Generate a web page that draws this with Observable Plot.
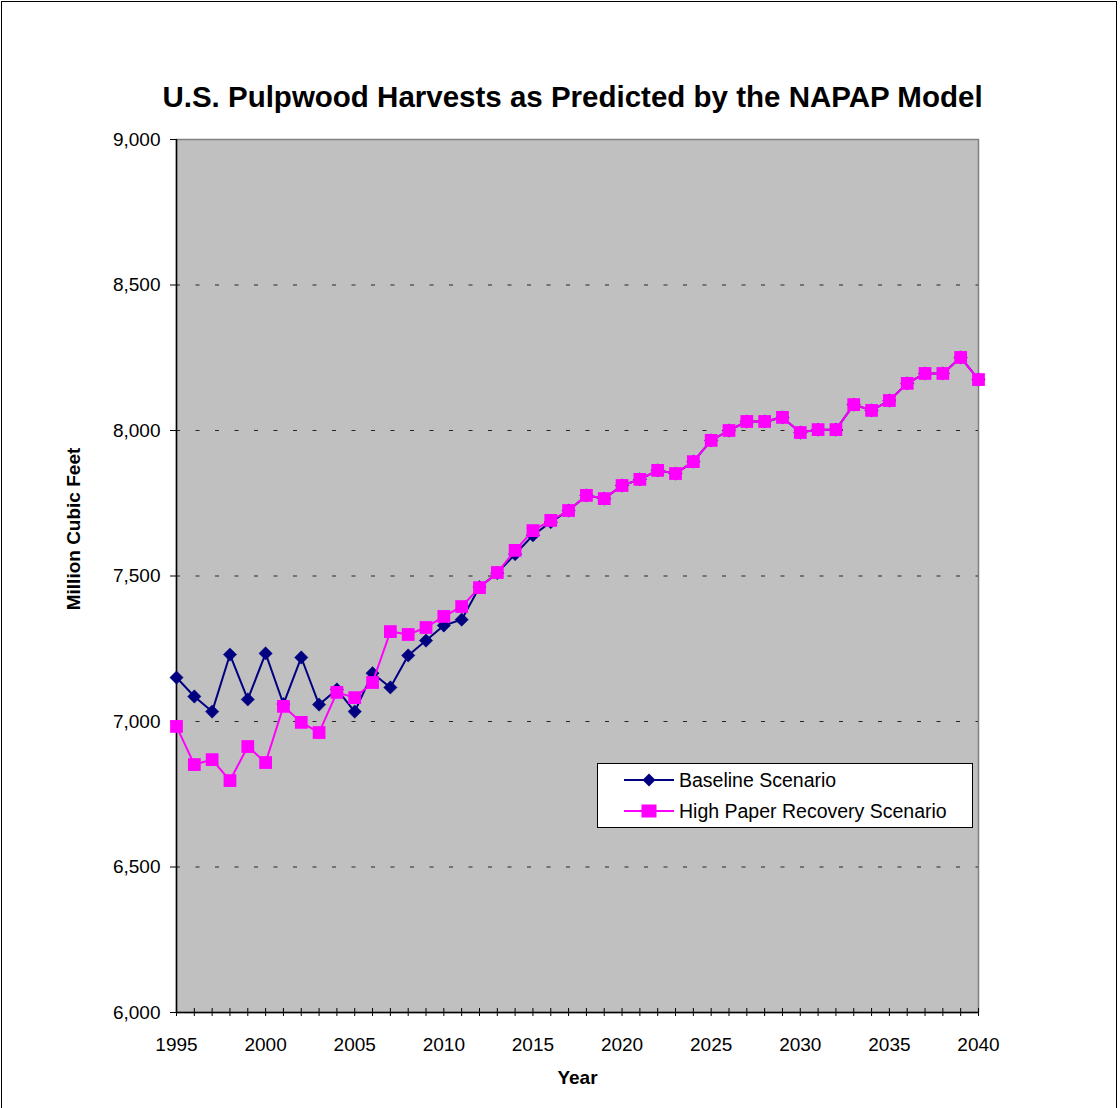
<!DOCTYPE html>
<html>
<head>
<meta charset="utf-8">
<script src="https://cdn.jsdelivr.net/npm/d3@7"></script>
<script src="https://cdn.jsdelivr.net/npm/@observablehq/plot@0.6"></script>
<style>
  html, body { margin: 0; padding: 0; background: white; }
  #wrap { position: relative; width: 1120px; height: 1108px; overflow: hidden; font-family: "Liberation Sans", Arial, sans-serif; }
  #border { position: absolute; left: 1px; top: 1px; width: 1116px; height: 1120px; border: 1px solid #000; box-sizing: border-box; pointer-events: none; }
  #legend { position: absolute; left: 597px; top: 763px; width: 376px; height: 65px; box-sizing: border-box; border: 1px solid #000; background: #fff; font-size: 19.5px; }
  .entry { position: absolute; left: 26px; height: 22px; display: flex; align-items: center; white-space: nowrap; }
  .entry span { margin-left: 5px; color: #000; }
</style>
</head>
<body>
<div id="wrap">
  <div id="chart"></div>
  <div id="legend"></div>
  <div id="border"></div>
</div>
<script>
const years = [1995,1996,1997,1998,1999,2000,2001,2002,2003,2004,
  2005,2006,2007,2008,2009,2010,2011,2012,2013,2014,
  2015,2016,2017,2018,2019,2020,2021,2022,2023,2024,
  2025,2026,2027,2028,2029,2030,2031,2032,2033,2034,
  2035,2036,2037,2038,2039,2040];

const baseline = [7151,7086,7034,7230,7076,7234,7060,7220,7058,7110,
  7034,7166,7117,7227,7278,7330,7350,7462,7510,7575,
  7640,7685,7725,7777,7766,7811,7832,7863,7852,7893,
  7966,8000,8031,8031,8045,7993,8003,8003,8089,8069,
  8103,8162,8196,8196,8251,8175];

const highRecovery = [6983,6852,6869,6797,6914,6859,7052,6997,6962,7100,
  7082,7134,7309,7299,7323,7361,7395,7460,7512,7588,
  7656,7691,7725,7777,7766,7811,7832,7863,7852,7893,
  7966,8000,8031,8031,8045,7993,8003,8003,8089,8069,
  8103,8162,8196,8196,8251,8175];

const seriesNames = ["Baseline Scenario", "High Paper Recovery Scenario"];
const yTicks = [6000, 6500, 7000, 7500, 8000, 8500, 9000];
const gridTicks = [6500, 7000, 7500, 8000, 8500];
const xLabelTicks = [1995, 2000, 2005, 2010, 2015, 2020, 2025, 2030, 2035, 2040];
const titleText = "U.S. Pulpwood Harvests as Predicted by the NAPAP Model";
const xTitle = "Year";
const yTitle = "Million Cubic Feet";

const navy = "#000080";
const magenta = "#FF00FF";

const baseData = years.map((y, i) => ({year: y, value: baseline[i]}));
const highData = years.map((y, i) => ({year: y, value: highRecovery[i]}));

const chart = Plot.plot({
  width: 1120,
  height: 1108,
  marginLeft: 176,
  marginRight: 142,
  marginTop: 139,
  marginBottom: 96,
  style: {fontFamily: "'Liberation Sans', Arial, sans-serif", fontSize: "19px", background: "white", color: "#000"},
  x: {domain: [1995, 2040], axis: null},
  y: {domain: [6000, 9000], axis: null},
  marks: [
    Plot.frame({fill: "#C0C0C0", stroke: "#808080", strokeWidth: 1.5}),
    Plot.ruleY(gridTicks, {stroke: "#000", strokeWidth: 1, strokeDasharray: "4,15.5", strokeOpacity: 0.8}),
    Plot.ruleX([1995], {stroke: "#000", strokeWidth: 1.5}),
    Plot.ruleY([6000], {stroke: "#000", strokeWidth: 1.5}),
    Plot.axisY({ticks: yTicks, tickFormat: d3.format(","), tickSize: 6, tickPadding: 10, fontSize: 19, stroke: "#000", label: null}),
    Plot.axisX({ticks: years, tickFormat: () => "", tickSize: 8, dy: -4, stroke: "#000", label: null}),
    Plot.axisX({ticks: xLabelTicks, tickFormat: d => String(d), tickSize: 0, tickPadding: 25, fontSize: 19, label: null}),
    Plot.line(baseData, {x: "year", y: "value", stroke: navy, strokeWidth: 2}),
    Plot.dot(baseData, {x: "year", y: "value", symbol: "diamond2", r: 6, fill: navy, stroke: navy, strokeWidth: 0.5}),
    Plot.line(highData, {x: "year", y: "value", stroke: magenta, strokeWidth: 2}),
    Plot.dot(highData, {x: "year", y: "value", symbol: "square", r: 7.2, fill: magenta, stroke: "none"}),
    Plot.text([titleText], {text: d => d, frameAnchor: "top", dy: -42, dx: -5, fontSize: 29.5, fontWeight: "bold", lineAnchor: "middle", textAnchor: "middle"}),
    Plot.text([xTitle], {text: d => d, frameAnchor: "bottom", dy: 65, fontSize: 19, fontWeight: "bold", lineAnchor: "middle", textAnchor: "middle"}),
    Plot.text([yTitle], {text: d => d, frameAnchor: "left", dx: -103, dy: -47, rotate: -90, fontSize: 19, fontWeight: "bold", lineAnchor: "middle", textAnchor: "middle"})
  ]
});
document.getElementById("chart").appendChild(chart);

// Legend
const legend = document.getElementById("legend");
const icons = [
  `<svg width="50" height="20"><line x1="0" y1="10" x2="50" y2="10" stroke="${navy}" stroke-width="2"/><path d="M25,3.5 L31.5,10 L25,16.5 L18.5,10 Z" fill="${navy}"/></svg>`,
  `<svg width="50" height="20"><line x1="0" y1="10" x2="50" y2="10" stroke="${magenta}" stroke-width="2"/><rect x="17.5" y="3.5" width="15" height="13" fill="${magenta}"/></svg>`
];
seriesNames.forEach((name, i) => {
  const div = document.createElement("div");
  div.className = "entry";
  div.style.top = (i === 0 ? 5 : 36) + "px";
  div.innerHTML = icons[i] + `<span>${name}</span>`;
  legend.appendChild(div);
});
</script>
</body>
</html>
